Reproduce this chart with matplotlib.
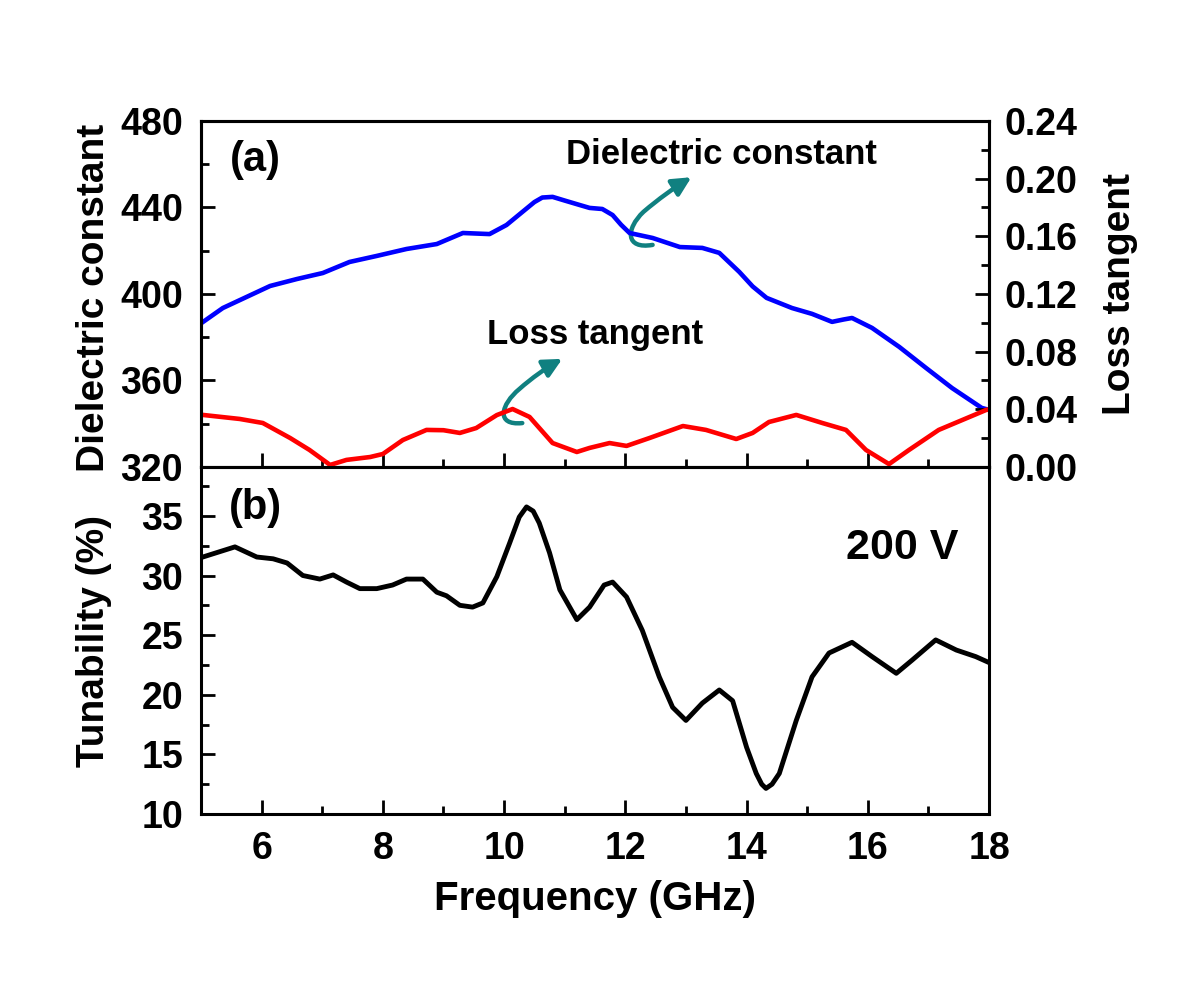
#!/usr/bin/env python3
# -*- coding: utf-8 -*-
import matplotlib
matplotlib.use('Agg')
import matplotlib.pyplot as plt
from matplotlib.patches import FancyArrowPatch
from matplotlib.path import Path
from matplotlib.ticker import MultipleLocator

plt.rcParams['font.family'] = ['Liberation Sans', 'DejaVu Sans']
plt.rcParams['font.weight'] = 'bold'

# dielectric constant (left axis, panel a)
freq_eps = [5.03, 5.36, 5.75, 6.14, 6.58, 7.01, 7.45, 7.9, 8.39, 8.89, 9.32,
            9.76, 10.04, 10.3, 10.5, 10.63, 10.8, 11.0, 11.24, 11.41, 11.62,
            11.79, 11.93, 12.07, 12.45, 12.9, 13.27, 13.55, 13.88, 14.1,
            14.33, 14.75, 15.08, 15.41, 15.6, 15.74, 16.07, 16.52, 16.96,
            17.39, 17.88, 18.0]
eps = [387, 393.5, 398.6, 403.7, 406.9, 409.7, 414.8, 417.6, 420.8, 423.1,
       428.2, 427.7, 431.9, 437.9, 442.5, 444.6, 444.9, 443.2, 441.2, 439.8,
       439.3, 436.5, 432, 428.2, 425.9, 421.7, 421.3, 419, 410.2, 403.5,
       398.2, 393.5, 390.8, 387.1, 388.2, 388.9, 384.3, 375.5, 365.8, 356.5,
       347.3, 346.4]

# loss tangent (right axis, panel a)
freq_tan = [5.03, 5.64, 6.02, 6.47, 6.79, 7.13, 7.4, 7.79, 8.0, 8.33, 8.72,
            9.0, 9.27, 9.54, 9.88, 10.14, 10.42, 10.8, 11.2, 11.41, 11.74,
            12.02, 12.4, 12.95, 13.33, 13.83, 14.1, 14.37, 14.82, 15.25,
            15.64, 15.97, 16.35, 16.68, 17.17, 17.95, 18.0]
tan_d = [0.0361, 0.0333, 0.0305, 0.0201, 0.0118, 0.0014, 0.0049, 0.0069,
         0.009, 0.0187, 0.0257, 0.0255, 0.0236, 0.027, 0.036, 0.0402, 0.0347,
         0.0166, 0.0104, 0.0132, 0.0166, 0.0146, 0.0201, 0.0284, 0.0257,
         0.0194, 0.0236, 0.0312, 0.0361, 0.0305, 0.0257, 0.0118, 0.002,
         0.0118, 0.0257, 0.0395, 0.04]

# tunability (panel b)
freq_tun = [5.03, 5.56, 5.92, 6.19, 6.42, 6.68, 6.96, 7.18, 7.4, 7.62, 7.9,
            8.16, 8.39, 8.66, 8.89, 9.05, 9.27, 9.48, 9.65, 9.88, 10.09, 10.25,
            10.37, 10.48, 10.58, 10.75, 10.92, 11.2, 11.41, 11.65, 11.79,
            12.02, 12.28, 12.56, 12.78, 13.0, 13.27, 13.55, 13.77, 14.0,
            14.16, 14.25, 14.32, 14.42, 14.54, 14.82, 15.08, 15.36, 15.74,
            16.07, 16.47, 16.73, 17.12, 17.46, 17.78, 18.0]
tun = [31.55, 32.4, 31.55, 31.4, 31.05, 30, 29.7, 30.05, 29.45, 28.9, 28.9,
       29.2, 29.7, 29.7, 28.6, 28.3, 27.5, 27.35, 27.7, 29.9, 32.7, 34.9,
       35.75, 35.4, 34.4, 31.9, 28.8, 26.3, 27.35, 29.2, 29.45, 28.2, 25.4,
       21.5, 18.95, 17.85, 19.3, 20.4, 19.5, 15.6, 13.4, 12.5, 12.15, 12.5,
       13.4, 17.85, 21.5, 23.5, 24.4, 23.2, 21.8, 22.9, 24.6, 23.75, 23.2,
       22.7]

TEAL = '#108080'
TICK_FS = 27
LABEL_FS = 28


def style_ticks(ax, pad=13):
    ax.tick_params(which='major', direction='in', length=10, width=2,
                   labelsize=TICK_FS, pad=pad)
    ax.tick_params(which='minor', direction='in', length=6, width=2)
    for s in ax.spines.values():
        s.set_linewidth(2.2)


def main():
    fig = plt.figure(figsize=(12, 9.86), dpi=100)
    ax1 = fig.add_axes([0.1675, 0.5264, 0.6567, 0.3509])
    ax3 = fig.add_axes([0.1675, 0.1744, 0.6567, 0.3520])
    ax2 = ax1.twinx()

    ax1.plot(freq_eps, eps, color='#0000FF', lw=3.3)
    ax2.plot(freq_tan, tan_d, color='#FF0000', lw=3.3)
    ax3.plot(freq_tun, tun, color='black', lw=3.5)

    ax1.set_xlim(5, 18)
    ax1.set_ylim(320, 480)
    ax2.set_ylim(0, 0.24)
    ax3.set_xlim(5, 18)
    ax3.set_ylim(10, 39.1)

    ax1.yaxis.set_major_locator(MultipleLocator(40))
    ax1.yaxis.set_minor_locator(MultipleLocator(20))
    ax1.xaxis.set_major_locator(MultipleLocator(2))
    ax1.xaxis.set_minor_locator(MultipleLocator(1))
    ax2.yaxis.set_major_locator(MultipleLocator(0.04))
    ax2.yaxis.set_minor_locator(MultipleLocator(0.02))
    ax2.yaxis.set_major_formatter(plt.FormatStrFormatter('%.2f'))
    ax3.yaxis.set_major_locator(MultipleLocator(5))
    ax3.yaxis.set_minor_locator(MultipleLocator(2.5))
    ax3.xaxis.set_major_locator(MultipleLocator(2))
    ax3.xaxis.set_minor_locator(MultipleLocator(1))

    style_ticks(ax1, pad=13)
    style_ticks(ax2, pad=11)
    style_ticks(ax3, pad=13)
    ax1.tick_params(axis='x', which='both', labelbottom=False)
    ax3.tick_params(axis='x', pad=12)

    ax1.set_ylabel('Dielectric constant', fontsize=LABEL_FS, fontweight='bold')
    ax1.yaxis.set_label_coords(-0.113, 0.49)
    ax2.set_ylabel('Loss tangent', fontsize=LABEL_FS, fontweight='bold')
    ax2.yaxis.set_label_coords(1.143, 0.5)
    ax3.set_ylabel('Tunability (%)', fontsize=LABEL_FS, fontweight='bold')
    ax3.yaxis.set_label_coords(-0.113, 0.5)
    ax3.set_xlabel('Frequency (GHz)', fontsize=29, fontweight='bold')
    ax3.xaxis.set_label_coords(0.5, -0.19)

    ax1.text(0.069, 0.887, '(a)', transform=ax1.transAxes, fontsize=30,
             fontweight='bold', ha='center', va='center')
    ax3.text(0.069, 0.882, '(b)', transform=ax3.transAxes, fontsize=30,
             fontweight='bold', ha='center', va='center')
    ax3.text(0.89, 0.767, '200 V', transform=ax3.transAxes, fontsize=31,
             fontweight='bold', ha='center', va='center')
    ax1.text(0.661, 0.902, 'Dielectric constant', transform=ax1.transAxes,
             fontsize=25, fontweight='bold', ha='center', va='center')
    ax1.text(0.5, 0.384, 'Loss tangent', transform=ax1.transAxes,
             fontsize=25, fontweight='bold', ha='center', va='center')

    # curly arrows pointing from each curve to its label
    hook1 = Path([(12.45, 422.7), (12.0, 420.5), (12.0, 430.0), (12.3, 438.0),
                  (12.55, 444.0), (12.8, 449.0), (13.09, 454.0)],
                 [Path.MOVETO, Path.CURVE4, Path.CURVE4, Path.CURVE4,
                  Path.CURVE4, Path.CURVE4, Path.CURVE4])
    hook2 = Path([(10.30, 340.3), (9.85, 339.0), (9.95, 349.0), (10.25, 356.0),
                  (10.45, 361.0), (10.7, 366.0), (10.96, 370.0)],
                 [Path.MOVETO, Path.CURVE4, Path.CURVE4, Path.CURVE4,
                  Path.CURVE4, Path.CURVE4, Path.CURVE4])
    for p in (hook1, hook2):
        arr = FancyArrowPatch(path=p, arrowstyle='-|>', mutation_scale=28,
                              color=TEAL, lw=3.2, transform=ax1.transData,
                              clip_on=False)
        ax1.add_patch(arr)

    fig.savefig('out.png', dpi=100)


if __name__ == '__main__':
    main()
